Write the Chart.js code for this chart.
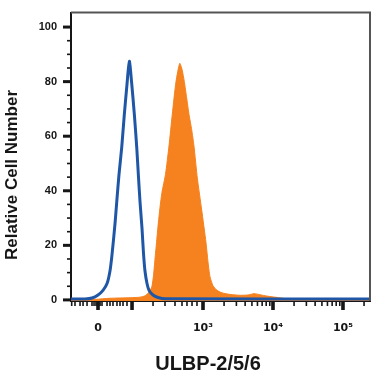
<!DOCTYPE html>
<html>
<head>
<meta charset="utf-8">
<script src="https://cdn.jsdelivr.net/npm/chart.js@4.4.1/dist/chart.umd.min.js"></script>
<style>
  html, body { margin: 0; padding: 0; background: #fff; }
  canvas { display: block; }
</style>
</head>
<body>
<canvas id="histChart" width="371" height="372"></canvas>
<script>
// x values are in display (logicle) units: 10^3 = 3, 10^4 = 4, 10^5 = 5, "0" sits at 1.5
const isotypeX = [1.114, 1.314, 1.414, 1.5, 1.571, 1.629, 1.671, 1.7, 1.743, 1.771, 1.8, 1.839, 1.876, 1.914, 1.947, 1.979, 2.019, 2.053, 2.076, 2.1, 2.129, 2.15, 2.171, 2.2, 2.229, 2.286, 2.357, 2.457, 5.386];
const isotypeY = [0.3, 0.35, 0.7, 1.8, 3.5, 6, 10.6, 16.6, 28, 37, 46, 56, 68, 79, 87.5, 80, 68, 56, 46, 36, 26, 17, 10.6, 6, 3.5, 1.8, 0.9, 0.4, 0.3];

const stainedX = [1.114, 1.457, 1.671, 1.957, 2.1, 2.171, 2.214, 2.243, 2.271, 2.293, 2.314, 2.336, 2.357, 2.386, 2.414, 2.464, 2.514, 2.561, 2.614, 2.667, 2.7, 2.733, 2.767, 2.8, 2.839, 2.871, 2.919, 2.981, 3.043, 3.071, 3.1, 3.143, 3.2, 3.271, 3.386, 3.529, 3.643, 3.729, 3.814, 3.914, 4.057, 4.171, 4.386, 5.386];
const stainedY = [0, 0.2, 0.6, 0.8, 1.0, 1.5, 2.5, 3.5, 5, 9, 15, 21, 27, 34, 39.5, 46, 56.4, 68, 80, 86.7, 84.5, 80, 74, 68, 62.3, 56.4, 44.6, 33, 21, 14, 8.5, 5.2, 3.5, 2.6, 2, 1.7, 1.8, 2.3, 1.9, 1.4, 0.9, 0.5, 0.2, 0];

const yTickValues = [0, 20, 40, 60, 80, 100];
const yMinorTicks = [5, 10, 15, 25, 30, 35, 45, 50, 55, 65, 70, 75, 85, 90, 95];
const xLabelPositions = [1.5, 3, 4, 5];
const xTickLabels = ['0', '10³', '10⁴', '10⁵'];
const xMajorTicks = [1.5, 1.986, 3, 4, 5];
const xMinorTicks = [1.124, 1.171, 1.243, 1.286, 1.343, 1.414, 1.443, 1.471, 1.529, 1.557, 1.629, 1.671, 1.714, 1.771, 1.814, 1.857, 1.914,
    2.286, 2.457, 2.6, 2.7, 2.771, 2.843, 2.914,
    3.301, 3.477, 3.602, 3.699, 3.778, 3.845, 3.903, 3.954,
    4.301, 4.477, 4.602, 4.699, 4.778, 4.845, 4.903, 4.954, 5.301];

const xTitle = 'ULBP-2/5/6';
const yTitle = 'Relative Cell Number';

const BLUE = '#1f57a6';
const ORANGE = '#f5821f';
const INK = '#161616';

function toPoints(xs, ys) {
    return xs.map(function (x, i) { return { x: x, y: ys[i] }; });
}

// tick marks: thick majors, thin minors, drawn against the library's scales
const tickMarks = {
    id: 'tickMarks',
    afterDraw: function (chart) {
        const ctx = chart.ctx;
        const area = chart.chartArea;
        const x = chart.scales.x;
        const y = chart.scales.y;
        ctx.save();
        ctx.fillStyle = INK;
        xMinorTicks.forEach(function (v) {
            const px = x.getPixelForValue(v);
            ctx.fillRect(px - 0.8, area.bottom, 1.6, 5);
        });
        xMajorTicks.forEach(function (v) {
            const px = x.getPixelForValue(v);
            ctx.fillRect(px - 1.8, area.bottom, 3.6, 9);
        });
        yMinorTicks.forEach(function (v) {
            const py = y.getPixelForValue(v);
            ctx.fillRect(area.left - 4, py - 0.8, 4, 1.6);
        });
        yTickValues.forEach(function (v) {
            const py = y.getPixelForValue(v);
            ctx.fillRect(area.left - 8, py - 1.5, 8, 3);
        });
        // frame on top and right
        ctx.strokeStyle = '#555';
        ctx.lineWidth = 2;
        ctx.beginPath();
        ctx.moveTo(area.left, area.top);
        ctx.lineTo(area.right, area.top);
        ctx.lineTo(area.right, area.bottom);
        ctx.stroke();
        ctx.restore();
    }
};

// axis titles, placed like the original figure
const axisTitles = {
    id: 'axisTitles',
    afterDraw: function (chart) {
        const ctx = chart.ctx;
        ctx.save();
        ctx.fillStyle = INK;
        ctx.textAlign = 'center';
        ctx.textBaseline = 'alphabetic';
        ctx.font = 'bold 20px "Liberation Sans", Arial, sans-serif';
        ctx.fillText(xTitle, 208, 370);
        ctx.translate(17, 175);
        ctx.rotate(-Math.PI / 2);
        ctx.font = 'bold 17px "Liberation Sans", Arial, sans-serif';
        ctx.fillText(yTitle, 0, 0);
        ctx.restore();
    }
};

const tickFont = { family: '"Liberation Sans", Arial, sans-serif', size: 11, weight: 'bold' };
const xTickFont = { family: '"DejaVu Sans", "Liberation Sans", sans-serif', size: 11, weight: 'bold' };

new Chart(document.getElementById('histChart'), {
    type: 'line',
    data: {
        datasets: [{
            label: 'Isotype control',
            data: toPoints(isotypeX, isotypeY),
            borderColor: BLUE,
            borderWidth: 3,
            fill: false,
            tension: 0.25,
            pointRadius: 0,
            order: 0
        }, {
            label: xTitle,
            data: toPoints(stainedX, stainedY),
            borderColor: ORANGE,
            backgroundColor: ORANGE,
            borderWidth: 1,
            fill: 'start',
            tension: 0.2,
            pointRadius: 0,
            order: 1
        }]
    },
    options: {
        responsive: false,
        animation: false,
        devicePixelRatio: 1,
        layout: { padding: { top: 1, right: 1, left: 0, bottom: 0 } },
        scales: {
            x: {
                type: 'linear',
                min: 1.114,
                max: 5.386,
                afterFit: function (scale) { scale.height = 71; },
                afterBuildTicks: function (scale) {
                    scale.ticks = xLabelPositions.map(function (v) { return { value: v }; });
                },
                ticks: {
                    autoSkip: false,
                    maxRotation: 0,
                    padding: 12,
                    color: INK,
                    font: xTickFont,
                    callback: function (value) {
                        const i = xLabelPositions.indexOf(value);
                        return i >= 0 ? xTickLabels[i] : '';
                    }
                },
                grid: { drawOnChartArea: false, drawTicks: true, tickLength: 9, tickColor: 'rgba(0,0,0,0)' },
                border: { display: true, color: INK, width: 2 }
            },
            y: {
                min: -0.4,
                max: 105.3,
                afterFit: function (scale) { scale.width = 71; },
                afterBuildTicks: function (scale) {
                    scale.ticks = yTickValues.map(function (v) { return { value: v }; });
                },
                ticks: {
                    padding: 6,
                    color: INK,
                    font: tickFont
                },
                grid: { drawOnChartArea: false, drawTicks: true, tickLength: 8, tickColor: 'rgba(0,0,0,0)' },
                border: { display: true, color: INK, width: 2 }
            }
        },
        plugins: {
            legend: { display: false },
            tooltip: { enabled: false }
        }
    },
    plugins: [tickMarks, axisTitles]
});
</script>
</body>
</html>
